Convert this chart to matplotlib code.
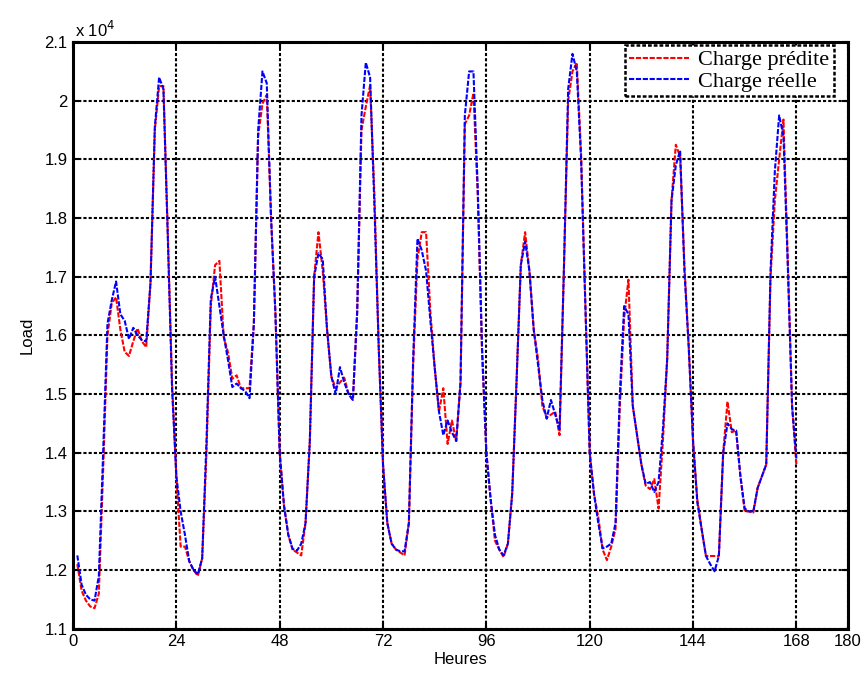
import numpy as np
import matplotlib
matplotlib.use('Agg')
import matplotlib.pyplot as plt
from matplotlib.ticker import FuncFormatter

# Hourly load over one week, in units of 10^4
hours = np.arange(1, 169)

charge_reelle = [
    1.225, 1.175, 1.158, 1.150, 1.148, 1.19, 1.40, 1.62, 1.66, 1.692, 1.636, 1.625,
    1.594, 1.613, 1.60, 1.592, 1.59, 1.69, 1.955, 2.04, 2.02, 1.77, 1.51, 1.36,
    1.30, 1.26, 1.215, 1.20, 1.193, 1.22, 1.42, 1.662, 1.70, 1.65, 1.60, 1.558,
    1.512, 1.518, 1.51, 1.505, 1.493, 1.62, 1.95, 2.05, 2.03, 1.80, 1.64, 1.40,
    1.31, 1.26, 1.236, 1.233, 1.245, 1.28, 1.42, 1.70, 1.74, 1.73, 1.61, 1.53,
    1.50, 1.546, 1.52, 1.50, 1.49, 1.64, 1.975, 2.065, 2.04, 1.82, 1.58, 1.38,
    1.28, 1.245, 1.235, 1.232, 1.232, 1.28, 1.56, 1.765, 1.745, 1.71, 1.625, 1.545,
    1.47, 1.43, 1.455, 1.435, 1.42, 1.52, 1.975, 2.05, 2.05, 1.85, 1.58, 1.40,
    1.32, 1.26, 1.235, 1.225, 1.245, 1.33, 1.52, 1.72, 1.76, 1.71, 1.61, 1.55,
    1.49, 1.458, 1.49, 1.465, 1.44, 1.71, 2.02, 2.08, 2.05, 1.90, 1.65, 1.40,
    1.33, 1.28, 1.237, 1.24, 1.245, 1.28, 1.50, 1.65, 1.636, 1.48, 1.43, 1.38,
    1.347, 1.35, 1.333, 1.35, 1.44, 1.56, 1.83, 1.89, 1.915, 1.71, 1.58, 1.42,
    1.315, 1.27, 1.224, 1.21, 1.198, 1.224, 1.40, 1.45, 1.44, 1.438, 1.36, 1.305,
    1.30, 1.30, 1.34, 1.36, 1.38, 1.71, 1.88, 1.975, 1.94, 1.72, 1.48, 1.39,
]

charge_predite = [
    1.21, 1.165, 1.148, 1.138, 1.135, 1.16, 1.37, 1.60, 1.655, 1.665, 1.61, 1.572,
    1.565, 1.59, 1.612, 1.59, 1.58, 1.69, 1.95, 2.025, 2.025, 1.78, 1.52, 1.36,
    1.24, 1.24, 1.215, 1.20, 1.19, 1.22, 1.40, 1.65, 1.72, 1.727, 1.597, 1.571,
    1.526, 1.532, 1.51, 1.51, 1.51, 1.62, 1.94, 1.995, 2.01, 1.80, 1.64, 1.40,
    1.31, 1.26, 1.235, 1.23, 1.225, 1.28, 1.42, 1.70, 1.776, 1.71, 1.61, 1.53,
    1.51, 1.52, 1.528, 1.50, 1.49, 1.64, 1.95, 1.99, 2.026, 1.84, 1.58, 1.38,
    1.28, 1.245, 1.235, 1.23, 1.225, 1.28, 1.55, 1.73, 1.776, 1.776, 1.64, 1.545,
    1.47, 1.51, 1.415, 1.455, 1.42, 1.52, 1.96, 1.975, 2.013, 1.84, 1.57, 1.40,
    1.32, 1.25, 1.235, 1.222, 1.245, 1.33, 1.52, 1.72, 1.776, 1.71, 1.61, 1.56,
    1.48, 1.46, 1.465, 1.47, 1.43, 1.71, 2.00, 2.05, 2.065, 1.91, 1.65, 1.40,
    1.33, 1.29, 1.235, 1.217, 1.24, 1.27, 1.48, 1.63, 1.695, 1.48, 1.43, 1.38,
    1.344, 1.338, 1.355, 1.305, 1.42, 1.56, 1.83, 1.925, 1.905, 1.72, 1.58, 1.42,
    1.32, 1.27, 1.224, 1.224, 1.224, 1.224, 1.40, 1.487, 1.435, 1.438, 1.36, 1.30,
    1.30, 1.298, 1.34, 1.36, 1.38, 1.70, 1.83, 1.90, 1.968, 1.73, 1.48, 1.38,
]

x_ticks = [0, 24, 48, 72, 96, 120, 144, 168, 180]
y_ticks = np.arange(1.1, 2.11, 0.1)

plt.rcParams['font.family'] = ['Liberation Sans', 'DejaVu Sans']

fig = plt.figure(figsize=(8.65, 6.79), dpi=100)
ax = fig.add_axes([0.0844, 0.074, 0.896, 0.864])

dash = (0, (2.5, 0.8))
ax.plot(hours, charge_predite, color='#ff0000', linestyle=dash, lw=1.5, label='Charge prédite')
ax.plot(hours, charge_reelle, color='#0000ff', linestyle=dash, lw=1.5, label='Charge réelle')

ax.set_xlim(0, 180)
ax.set_ylim(1.1, 2.1)
ax.set_xticks(x_ticks)
ax.set_yticks(y_ticks)
ax.yaxis.set_major_formatter(FuncFormatter(lambda v, p: f'{v:g}'))

# grid and box drawn as dotted black lines
ax.grid(True, color='black', linestyle=(0, (1.5, 1)), linewidth=1.5)
for side in ax.spines.values():
    side.set_linestyle((0, (1.5, 0.8)))
    side.set_linewidth(2.2)
ax.tick_params(direction='in', top=True, right=True, length=4, width=1.5,
               labelsize=12, pad=4)

ax.set_xlabel('Heures', fontsize=12, labelpad=2)
ax.set_ylabel('Load', fontsize=12, labelpad=7)
ax.text(0.003, 1.004, r'x 10$^{4}$', transform=ax.transAxes, fontsize=12,
        ha='left', va='bottom')

leg = ax.legend(loc='upper right', prop={'family': 'Liberation Serif', 'size': 16},
                fancybox=False, framealpha=1, edgecolor='black',
                handlelength=2.7, handletextpad=0.4, labelspacing=0.05,
                borderpad=0.2, borderaxespad=0.2)
leg.get_frame().set_linestyle((0, (1.5, 0.8)))
leg.get_frame().set_linewidth(1.8)
leg.set_bbox_to_anchor((0.987, 1.002), transform=ax.transAxes)

fig.savefig('out.png', dpi=100)
